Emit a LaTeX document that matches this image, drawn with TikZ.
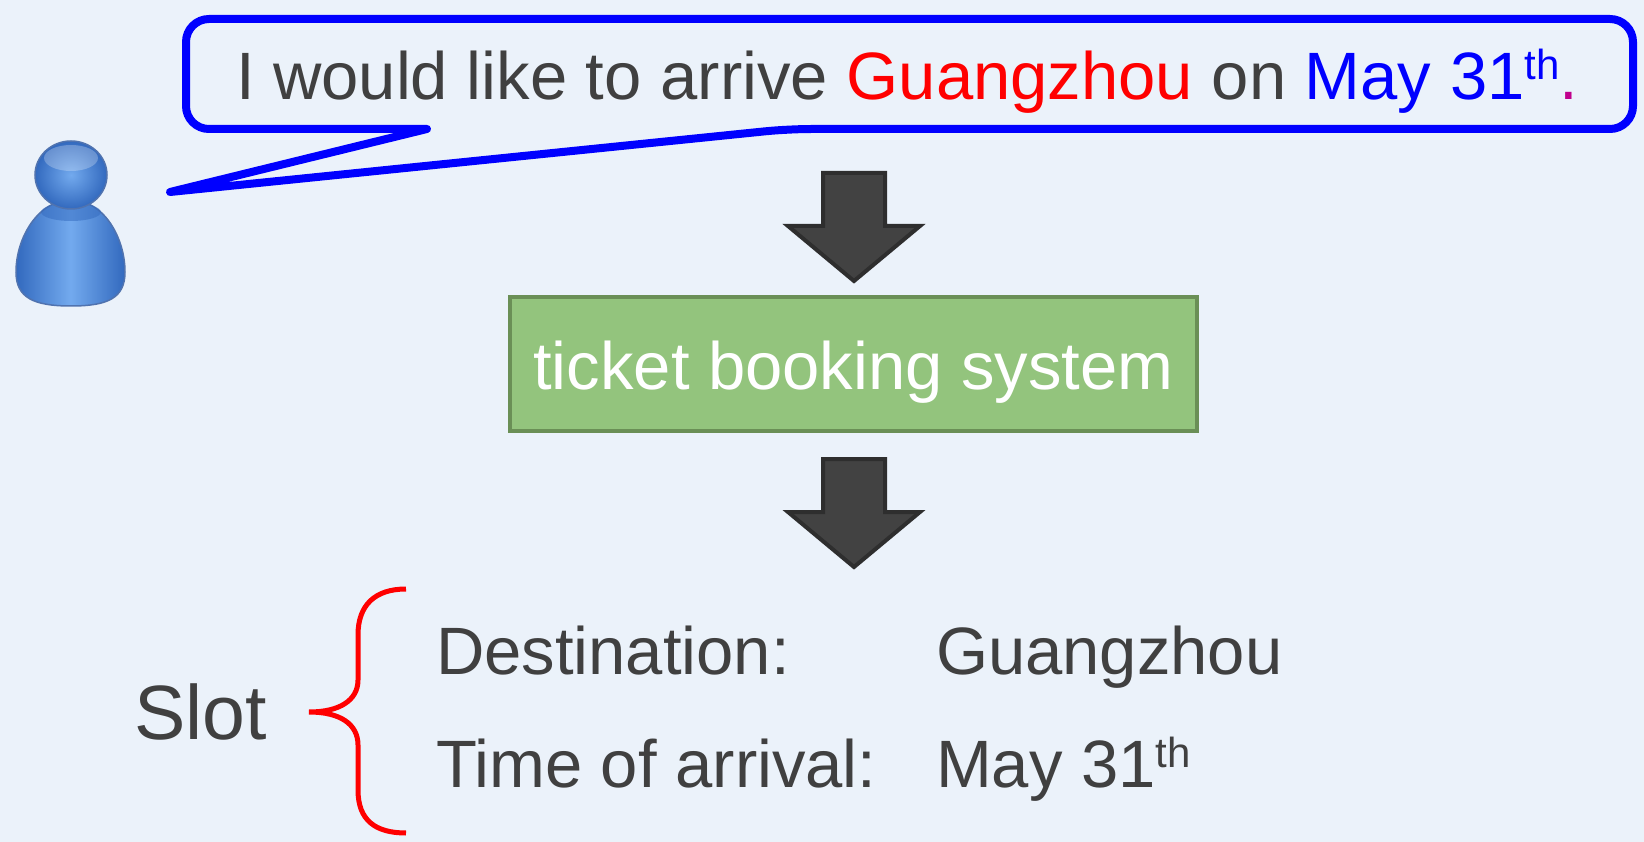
\documentclass[tikz,border=0pt]{standalone}
\usepackage{fontspec}
\setmainfont{Liberation Sans}
\newcommand\myfs[1]{\fontsize{#1}{#1}\selectfont}
\newcommand\myth{\raisebox{20pt}{\myfs{42}th}}
\definecolor{bg}{RGB}{235,242,250}
\definecolor{txt}{RGB}{64,64,64}
\definecolor{bub}{RGB}{0,0,255}
\definecolor{dotc}{RGB}{192,0,140}
\definecolor{gfill}{RGB}{147,196,125}
\definecolor{gline}{RGB}{106,143,86}
\definecolor{afill}{RGB}{66,66,66}
\definecolor{aline}{RGB}{46,46,46}
\definecolor{pdark}{RGB}{50,105,190}
\definecolor{plight}{RGB}{115,170,238}
\definecolor{pline}{RGB}{80,115,175}
\begin{document}
\begin{tikzpicture}[x=1pt,y=-1pt,
  txtnode/.style={inner sep=0pt, outer sep=0pt, text=txt, font=\myfs{67}},
  sysbox/.style={draw=gline, fill=gfill, line width=4, inner sep=0pt},
  blockarrow/.pic={\filldraw[fill=afill, draw=aline, line width=4, line join=miter]
     (-31,0) -- (31,0) -- (31,53) -- (66,53) -- (0,108) -- (-66,53) -- (-31,53) -- cycle;}
]
\useasboundingbox (0,0) rectangle (1644,842);
\fill[bg] (0,0) rectangle (1644,842);

% person icon
\shadedraw[left color=pdark, right color=pdark, middle color=plight, draw=pline, line width=1.5]
  (71,200) .. controls (38,200) and (16,238) .. (16,272)
  .. controls (16,298) and (34,306) .. (71,306)
  .. controls (108,306) and (125,298) .. (125,272)
  .. controls (125,238) and (104,200) .. (71,200) -- cycle;
\fill[pdark, opacity=0.5] (71,212) ellipse [x radius=30, y radius=9];
\shadedraw[inner color=plight, outer color=pdark, draw=pline, line width=1.5]
  (71,175) ellipse [x radius=36, y radius=34];
\fill[white, opacity=0.25] (71,158) ellipse [x radius=27, y radius=13];

% speech bubble
\draw[bub, line width=8, line join=round, fill=bg, rounded corners=23]
  (427,129) -- (186,129) -- (186,19) -- (1633,19) -- (1633,129) -- (788,129)
  [sharp corners] -- (170,192) -- cycle;
\node[txtnode, anchor=base west] (msg) at (236,100)
  {I would like to arrive \textcolor{red}{Guangzhou} on \textcolor{bub}{May 31\myth}\textcolor{dotc}{.}};

% arrows and system
\pic at (854,173) {blockarrow};
\node[sysbox, minimum width=687, minimum height=134] (sys) at (853.5,364) {};
\node[inner sep=0pt, text=white, font=\myfs{67}, anchor=base] (syslbl) at (853.5,389) {ticket booking system};
\pic at (854,459) {blockarrow};

% slots
\node[txtnode, font=\myfs{77}, anchor=base west] (slot) at (134,739) {Slot};
\draw[red, line width=5]
  (406,589) .. controls (375,589) and (358,605) .. (358,635) -- (358,680)
  .. controls (358,700) and (340,712) .. (309,712)
  .. controls (340,712) and (358,724) .. (358,745) -- (358,790)
  .. controls (358,820) and (375,833) .. (406,833);
\node[txtnode, anchor=base west] (dest) at (436,674) {Destination:};
\node[txtnode, anchor=base west] (destv) at (936,674) {Guangzhou};
\node[txtnode, anchor=base west] (time) at (436,787) {Time of arrival:};
\node[txtnode, anchor=base west] (timev) at (936,787) {May 31\myth};
\end{tikzpicture}
\end{document}
